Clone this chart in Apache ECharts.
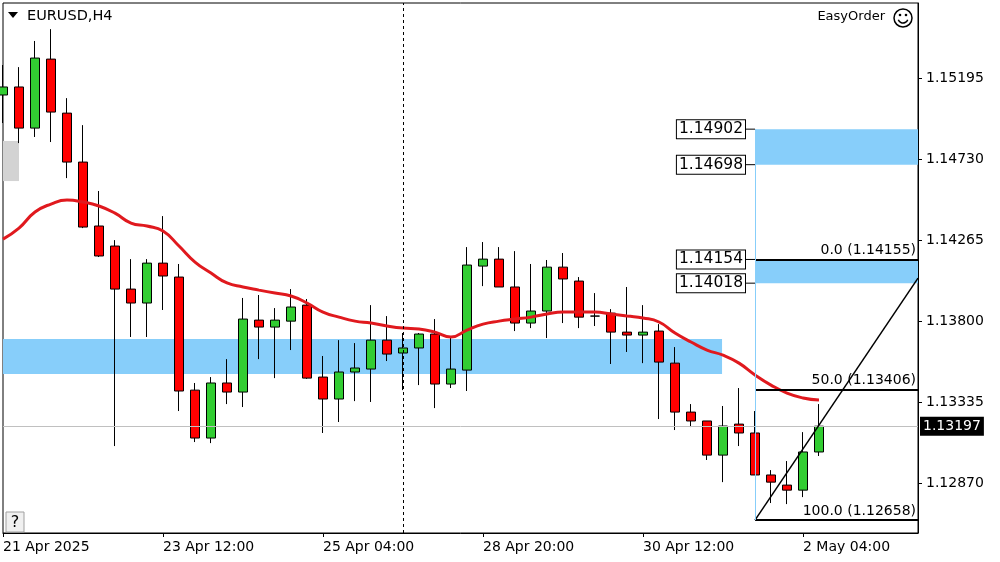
<!DOCTYPE html>
<html>
<head>
<meta charset="utf-8">
<script src="https://cdn.jsdelivr.net/npm/echarts@6/dist/echarts.min.js"></script>
<style>
  html, body { margin: 0; padding: 0; background: #fff; }
  #main { width: 1000px; height: 562px; }
</style>
</head>
<body>
<div id="main"></div>
<script>
// EURUSD H4 bars (index 0 is the bar cut at the left edge)
var opens = [1.15098,1.15144,1.14908,1.15304,1.14994,1.14713,1.14346,1.14231,1.13984,1.13904,
  1.14133,1.14053,1.13404,1.13129,1.13445,1.13393,1.13806,1.13766,1.13800,1.13892,
  1.13479,1.13353,1.13508,1.13525,1.13691,1.13617,1.13646,1.13726,1.13439,1.13519,
  1.14116,1.14156,1.13996,1.13789,1.13858,1.14110,1.14030,1.13829,1.13846,1.13737,
  1.13720,1.13743,1.13559,1.13278,1.13227,1.13031,1.13209,1.13158,1.12917,1.12859,
  1.12830,1.13049];
var closes = [1.15144,1.14908,1.15310,1.15000,1.14713,1.14340,1.14174,1.13984,1.13904,1.14133,
  1.14059,1.13399,1.13129,1.13445,1.13393,1.13812,1.13766,1.13806,1.13881,1.13473,
  1.13353,1.13508,1.13531,1.13691,1.13611,1.13646,1.13726,1.13439,1.13525,1.14122,
  1.14156,1.13996,1.13789,1.13858,1.14110,1.14042,1.13823,1.13829,1.13737,1.13720,
  1.13737,1.13565,1.13278,1.13227,1.13031,1.13198,1.13158,1.12917,1.12876,1.12830,
  1.13049,1.13197];
var highs = [1.15270,1.15258,1.15408,1.15476,1.15080,1.14925,1.14547,1.14265,1.14156,1.14156,
  1.14403,1.14128,1.13445,1.13479,1.13582,1.13933,1.13950,1.13875,1.13984,1.13927,
  1.13600,1.13691,1.13674,1.13892,1.13829,1.13732,1.13732,1.13812,1.13709,1.14225,
  1.14254,1.14225,1.14202,1.14128,1.14151,1.14191,1.14053,1.13961,1.13869,1.13996,
  1.13892,1.13783,1.13651,1.13324,1.13227,1.13313,1.13416,1.13284,1.12945,1.12997,
  1.13163,1.13324];
var lows = [1.14937,1.14822,1.14857,1.14828,1.14621,1.14334,1.14168,1.13083,1.13709,1.13709,
  1.13864,1.13284,1.13106,1.13100,1.13324,1.13307,1.13582,1.13473,1.13634,1.13468,
  1.13158,1.13221,1.13341,1.13336,1.13571,1.13404,1.13433,1.13301,1.13416,1.13399,
  1.14001,1.13996,1.13743,1.13760,1.13703,1.13789,1.13760,1.13772,1.13554,1.13623,
  1.13559,1.13238,1.13175,1.13192,1.13003,1.12876,1.13083,1.12917,1.12756,1.12750,
  1.12790,1.13026];
// red moving average, one value per bar
var maValues = [1.14271,1.14334,1.14426,1.14472,1.14495,1.14484,1.14461,1.14420,1.14363,1.14346,
  1.14317,1.14231,1.14139,1.14076,1.14019,1.13996,1.13978,1.13961,1.13944,1.13904,
  1.13852,1.13823,1.13800,1.13789,1.13772,1.13760,1.13755,1.13737,1.13709,1.13749,
  1.13783,1.13800,1.13812,1.13823,1.13841,1.13852,1.13852,1.13852,1.13841,1.13829,
  1.13818,1.13795,1.13732,1.13680,1.13634,1.13605,1.13559,1.13491,1.13433,1.13387,
  1.13359,1.13347];

var timeTicks = [0, 10, 20, 30, 40, 50];
var timeLabels = ['21 Apr 2025', '23 Apr 12:00', '25 Apr 04:00', '28 Apr 20:00', '30 Apr 12:00', '2 May 04:00'];
var priceTicks = [1.12870, 1.13335, 1.13800, 1.14265, 1.14730, 1.15195];
var lastPrice = 1.13197;

// zones: [fromBar, toBar, top, bottom]
var blueZones = [[0, 44.94, 1.13697, 1.13496], [47, 'end', 1.14902, 1.14698], [47, 'end', 1.14154, 1.14018]];
var greyZone = [0, 1, 1.14834, 1.14604];
var zonePrices = [1.14902, 1.14698, 1.14154, 1.14018];
var fibStart = 47;
var fibLevels = [[0.0, 1.14155], [50.0, 1.13406], [100.0, 1.12658]];
var trendEnd = 1.14047;
var dashedBar = 25;

var FONT = 'DejaVu Sans';
var X_MAX = 57.1875;
var Y_MIN = 1.12584, Y_MAX = 1.15626;

var chart = echarts.init(document.getElementById('main'));

var candles = opens.map(function (o, i) { return [i, o, closes[i], lows[i], highs[i]]; });
var maData = maValues.map(function (v, i) { return [i, v]; });
function bx(v) { return v === 'end' ? X_MAX : v; }

var areas = blueZones.map(function (z) {
  return [{ xAxis: bx(z[0]), yAxis: z[2] }, { xAxis: bx(z[1]), yAxis: z[3] }];
});
areas.push([{ xAxis: greyZone[0], yAxis: greyZone[2], itemStyle: { color: '#d3d3d3' } },
            { xAxis: greyZone[1], yAxis: greyZone[3] }]);

var fibLines = fibLevels.map(function (f) {
  return [{ coord: [fibStart, f[1]],
            label: { show: true, position: 'insideEndTop', formatter: f[0].toFixed(1) + ' (' + f[1].toFixed(5) + ')',
                     color: '#000', fontFamily: FONT, fontSize: 14, distance: 2 } },
          { coord: [X_MAX, f[1]] }];
});

chart.setOption({
  animation: false,
  grid: { left: 3, right: 82, top: 3, bottom: 29, show: true, borderColor: '#000', borderWidth: 1 },
  xAxis: {
    type: 'value', min: 0, max: X_MAX,
    axisLine: { show: true, onZero: false, lineStyle: { color: '#000', width: 1 } },
    axisTick: { show: true, customValues: timeTicks, length: 4, lineStyle: { color: '#000' } },
    axisLabel: {
      customValues: timeTicks, align: 'left', color: '#000', fontFamily: FONT, fontSize: 14, margin: 7,
      formatter: function (v) { return timeLabels[timeTicks.indexOf(v)]; }
    },
    splitLine: { show: false }
  },
  yAxis: {
    type: 'value', position: 'right', min: Y_MIN, max: Y_MAX,
    axisLine: { show: true, onZero: false, lineStyle: { color: '#000', width: 1 } },
    axisTick: { show: true, customValues: priceTicks, length: 4, lineStyle: { color: '#000' } },
    axisLabel: {
      customValues: priceTicks, color: '#000', fontFamily: FONT, fontSize: 14, margin: 8,
      formatter: function (v) { return v.toFixed(5); }
    },
    splitLine: { show: false }
  },
  series: [
    {
      // zones and current price line, behind the bars
      type: 'line', data: [], z: 1, silent: true,
      markArea: { silent: true, itemStyle: { color: '#87cefa' }, data: areas },
      markLine: {
        silent: true, symbol: ['none', 'none'], animation: false, precision: 5,
        data: [{
          yAxis: lastPrice, lineStyle: { color: '#c0c0c0', width: 1, type: 'solid' },
          label: { show: true, position: 'end', formatter: lastPrice.toFixed(5), distance: 2,
                   backgroundColor: '#000', color: '#fff', fontFamily: FONT, fontSize: 14, padding: [3, 3, 2, 3] }
        }]
      }
    },
    {
      type: 'candlestick', data: candles, z: 2, barWidth: 10, clip: true,
      itemStyle: { color: '#32cd32', color0: '#ff0000', borderColor: '#000', borderColor0: '#000',
                   borderColorDoji: '#000', borderWidth: 1 }
    },
    {
      type: 'line', data: maData, z: 3, smooth: true, showSymbol: false,
      lineStyle: { color: '#e0191e', width: 3 }
    },
    {
      // fibo, trend line, vertical markers on top
      type: 'line', data: [], z: 4, silent: true,
      markLine: {
        silent: true, symbol: ['none', 'none'], animation: false, precision: 5,
        label: { show: false },
        lineStyle: { color: '#000', width: 2, type: 'solid' },
        data: fibLines.concat([
          [{ coord: [fibStart, fibLevels[2][1]], lineStyle: { color: '#000', width: 1.5 } }, { coord: [X_MAX, trendEnd] }],
          [{ coord: [fibStart, zonePrices[0]], lineStyle: { color: '#87cefa', width: 1 } }, { coord: [fibStart, fibLevels[2][1]] }],
          { xAxis: dashedBar, lineStyle: { color: '#000', width: 1, type: [3, 3] } }
        ])
      }
    }
  ]
});

// price boxes left of the zones, header texts, help button
var g = [];
zonePrices.forEach(function (p) {
  var pt = chart.convertToPixel({ gridIndex: 0 }, [fibStart, p]);
  g.push({ type: 'line', shape: { x1: pt[0] - 10, y1: pt[1], x2: pt[0], y2: pt[1] }, style: { stroke: '#000', lineWidth: 1 } });
  g.push({ type: 'text', x: pt[0] - 10, y: pt[1],
    style: { text: p.toFixed(5), align: 'right', verticalAlign: 'middle', fill: '#000', font: '15.5px "DejaVu Sans"',
             backgroundColor: '#fff', borderColor: '#000', borderWidth: 1, padding: [1, 2, 1, 2] } });
});
g.push({ type: 'polygon', shape: { points: [[8, 12], [18, 12], [13, 18]] }, style: { fill: '#000' } });
g.push({ type: 'text', x: 27, y: 16, style: { text: 'EURUSD,H4', verticalAlign: 'middle', fill: '#000', font: '14.5px "DejaVu Sans"' } });
g.push({ type: 'text', x: 885, y: 17, style: { text: 'EasyOrder', align: 'right', verticalAlign: 'middle', fill: '#000', font: '13px "DejaVu Sans"' } });
g.push({ type: 'circle', shape: { cx: 903, cy: 18, r: 9 }, style: { fill: 'none', stroke: '#000', lineWidth: 1.5 } });
g.push({ type: 'circle', shape: { cx: 900, cy: 15, r: 1.3 }, style: { fill: '#000' } });
g.push({ type: 'circle', shape: { cx: 906, cy: 15, r: 1.3 }, style: { fill: '#000' } });
g.push({ type: 'arc', shape: { cx: 903, cy: 18, r: 5, startAngle: 0.35, endAngle: Math.PI - 0.35 }, style: { fill: 'none', stroke: '#000', lineWidth: 1.5 } });
g.push({ type: 'rect', shape: { x: 6, y: 512, width: 18, height: 20 }, style: { fill: '#f0f0f0', stroke: '#a0a0a0', lineWidth: 1 } });
g.push({ type: 'text', x: 15, y: 523, style: { text: '?', align: 'center', verticalAlign: 'middle', fill: '#000', font: '16px "DejaVu Sans"' } });
chart.setOption({ graphic: g });
</script>
</body>
</html>
